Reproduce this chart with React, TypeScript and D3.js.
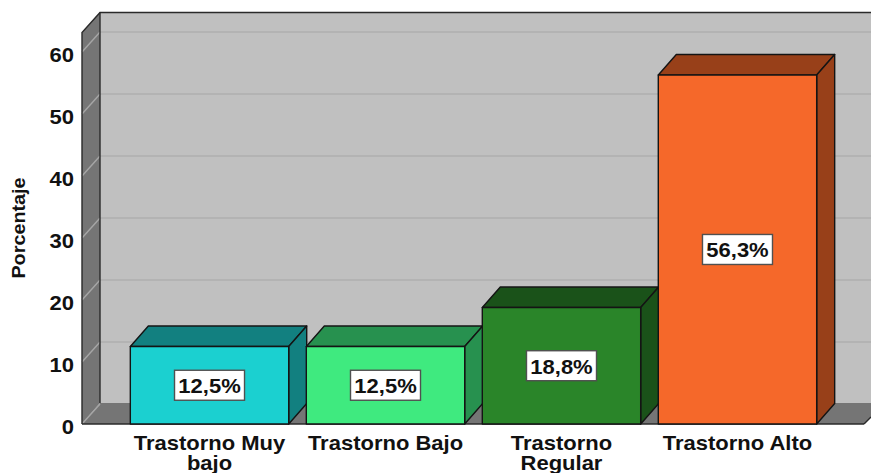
import React from 'react';
import * as d3 from 'd3';

const categories = [['Trastorno Muy', 'bajo'], ['Trastorno Bajo'], ['Trastorno', 'Regular'], ['Trastorno Alto']];
const values = [12.5, 12.5, 18.8, 56.3];
const valueLabels = ['12,5%', '12,5%', '18,8%', '56,3%'];
const front = ['#1bd0d0', '#3fea7f', '#2a8529', '#f5682a'];
const topColors = ['#128080', '#27914f', '#1a5219', '#984019'];
const sideColors = ['#128080', '#27914f', '#1a5219', '#984019'];
const ticks = [0, 10, 20, 30, 40, 50, 60];

const DX = 18;
const DY = -20;
const BAR_DY = -20.5;
const STRETCH = 1.1;
const y = d3.scaleLinear().domain([0, 60]).range([424, 52]);
const x = d3.scaleBand<number>().domain([0, 1, 2, 3]).range([118, 829]).paddingInner(0.1).paddingOuter(0.07);
const left = 82;
const right = 864;
const topY = y(63.15);
const font = '"Liberation Sans", Arial, sans-serif';
const ink = '#111';

function poly(p: number[][]) { return p.map(a => a.join(',')).join(' '); }

function Wide({ x: tx, y: ty, size, anchor = 'middle', children }: any) {
  return (
    <text transform={`translate(${tx},${ty}) scale(${STRETCH},1)`} textAnchor={anchor} fontSize={size} fontWeight={700} fill={ink}>
      {children}
    </text>
  );
}

export default function App() {
  const y0 = y(0);
  const floorBack = y0 - 21;
  return (
    <svg width={871} height={473} style={{ position: 'absolute', left: 0, top: 0 }} fontFamily={font}>
      <rect width={871} height={473} fill="#fff" />
      <rect x={left + DX} y={topY + DY} width={871 - left - DX} height={floorBack - topY - DY} fill="#c0c0c0" />
      <polygon points={poly([[left, topY], [left + DX, topY + DY], [left + DX, floorBack], [left, y0]])} fill="#757575" />
      <polygon points={poly([[left, y0], [left + DX, floorBack], [871, floorBack], [871, y0 - 7], [right, y0]])} fill="#757575" />
      {ticks.map(t => (
        <g key={t} fill="none">
          {t > 0 && <line x1={left + DX} x2={871} y1={y(t) + DY} y2={y(t) + DY} stroke="#b3b3b3" strokeWidth={1.8} />}
          <line x1={left} y1={y(t)} x2={left + DX} y2={y(t) + DY} stroke="#a6a6a6" strokeWidth={1.4} />
        </g>
      ))}
      <g fill="none" stroke="#2a2a2a" strokeWidth={1.4}>
        <polyline points={poly([[left, y0], [left, topY], [left + DX, topY + DY], [871, topY + DY]])} />
        <line x1={left + DX} x2={left + DX} y1={topY + DY} y2={floorBack} />
        <line x1={left} x2={right} y1={y0} y2={y0} />
        <line x1={right} x2={871} y1={y0} y2={y0 - 7} />
      </g>
      {values.map((v, i) => {
        const bx = x(i)!;
        const w = x.bandwidth();
        const by = y(v);
        return (
          <g key={i} stroke="#141414" strokeWidth={1.4} strokeLinejoin="round">
            <polygon points={poly([[bx, by], [bx + DX, by + BAR_DY], [bx + w + DX, by + BAR_DY], [bx + w, by]])} fill={topColors[i]} />
            <polygon points={poly([[bx + w, by], [bx + w + DX, by + BAR_DY], [bx + w + DX, y0 + BAR_DY], [bx + w, y0]])} fill={sideColors[i]} />
            <rect x={bx} y={by} width={w} height={y0 - by} fill={front[i]} />
          </g>
        );
      })}
      {values.map((v, i) => {
        const cx = x(i)! + x.bandwidth() / 2;
        const cy = (y(v) + y0) / 2;
        return (
          <g key={i}>
            <rect x={cx - 35} y={cy - 15} width={70} height={30} fill="#fff" stroke="#505050" strokeWidth={1.4} />
            <Wide x={cx} y={cy + 8} size={20}>{valueLabels[i]}</Wide>
          </g>
        );
      })}
      {ticks.map(t => (
        <Wide key={t} x={74} y={y(t) + 10} size={20} anchor="end">{t}</Wide>
      ))}
      <text transform={`translate(25,228) rotate(-90) scale(${STRETCH},1)`} textAnchor="middle" fontSize={18} fontWeight={700} fill={ink}>Porcentaje</text>
      {categories.map((c, i) =>
        c.map((line, j) => (
          <Wide key={`${i}-${j}`} x={x(i)! + x.bandwidth() / 2} y={450 + j * 20} size={20}>{line}</Wide>
        ))
      )}
    </svg>
  );
}
